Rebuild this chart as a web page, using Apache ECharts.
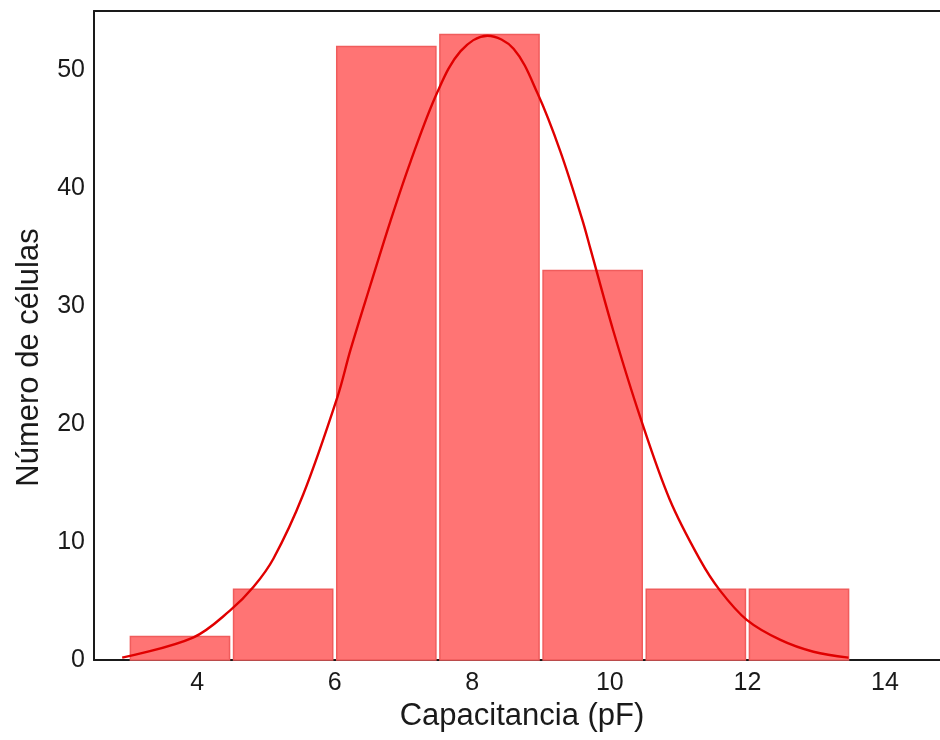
<!DOCTYPE html>
<html>
<head>
<meta charset="utf-8">
<script src="https://cdn.jsdelivr.net/npm/echarts@6/dist/echarts.min.js"></script>
<style>
  html, body { margin: 0; padding: 0; background: #fff; }
  #chart { width: 940px; height: 740px; }
</style>
</head>
<body>
<div id="chart"></div>
<script>
// histogram bins (pF)
var binStart = [3, 4.5, 6, 7.5, 9, 10.5, 12];
var binEnd = [4.5, 6, 7.5, 9, 10.5, 12, 13.5];
var counts = [2, 6, 52, 53, 33, 6, 6];

// fitted curve, points
var curveX = [2.91, 3.94, 4.48, 4.82, 5.11, 5.54, 6.04, 6.23, 6.52, 6.81, 7.10, 7.49, 7.83, 8.22,
              8.60, 8.95, 9.28, 9.60, 9.72, 10.05, 10.44, 10.87, 11.31, 11.60, 11.99, 12.48, 12.96, 13.47];
var curveY = [0.2, 1.9, 4.2, 6.2, 8.6, 14.0, 22.3, 26.3, 31.8, 37.2, 42.2, 48.1, 51.6, 52.9,
              51.8, 48.0, 43.1, 37.3, 34.8, 27.9, 20.6, 13.6, 8.5, 5.9, 3.4, 1.7, 0.7, 0.2];

var xTicks = [4, 6, 8, 10, 12, 14];
var yTicks = [0, 10, 20, 30, 40, 50];

var bars = binStart.map(function (s, i) { return [s, binEnd[i], counts[i]]; });
var curve = curveX.map(function (x, i) { return [x, curveY[i]]; });

var font = "'Liberation Sans', Arial, sans-serif";
var chart = echarts.init(document.getElementById("chart"));

var option = {
  backgroundColor: "#fff",
  animation: false,
  grid: { left: 94, right: 0, top: 11, bottom: 80 },
  xAxis: [
    {
      type: "value",
      min: 2.5,
      max: 14.8,
      name: "Capacitancia (pF)",
      nameLocation: "middle",
      nameGap: 41,
      nameTextStyle: { fontFamily: font, fontSize: 31, color: "#1a1a1a", padding: [0, 0, 0, 10] },
      axisLine: { show: true, lineStyle: { color: "#1a1a1a", width: 2 } },
      axisTick: { show: false },
      splitLine: { show: false },
      axisLabel: {
        customValues: xTicks,
        fontFamily: font, fontSize: 25, color: "#1a1a1a", margin: 11
      }
    },
    {
      type: "value",
      position: "top",
      min: 2.5,
      max: 14.8,
      axisLine: { show: true, lineStyle: { color: "#1a1a1a", width: 2 } },
      axisTick: { show: false },
      axisLabel: { show: false },
      splitLine: { show: false }
    }
  ],
  yAxis: {
    type: "value",
    min: 0,
    max: 55,
    name: "Número de células",
    nameLocation: "middle",
    nameGap: 49,
    nameTextStyle: { fontFamily: font, fontSize: 31, color: "#1a1a1a", padding: [0, 44, 0, 0] },
    axisLine: { show: true, lineStyle: { color: "#1a1a1a", width: 2 } },
    axisTick: { show: false },
    splitLine: { show: false },
    axisLabel: {
      customValues: yTicks,
      fontFamily: font, fontSize: 25, color: "#1a1a1a", margin: 9
    }
  },
  series: [
    {
      type: "custom",
      xAxisIndex: 0,
      data: bars,
      encode: { x: [0, 1], y: 2 },
      renderItem: function (params, api) {
        var p0 = api.coord([api.value(0), api.value(2)]);
        var p1 = api.coord([api.value(1), 0]);
        return {
          type: "rect",
          shape: { x: p0[0] + 2, y: p0[1], width: p1[0] - p0[0] - 4, height: p1[1] - p0[1] },
          style: { fill: "#ff7474", stroke: "#f05c5c", lineWidth: 1.5 }
        };
      }
    },
    {
      type: "line",
      xAxisIndex: 0,
      data: curve,
      smooth: 0.35,
      showSymbol: false,
      lineStyle: { color: "#e00000", width: 2.4 },
      z: 5
    }
  ]
};

chart.setOption(option);
</script>
</body>
</html>
